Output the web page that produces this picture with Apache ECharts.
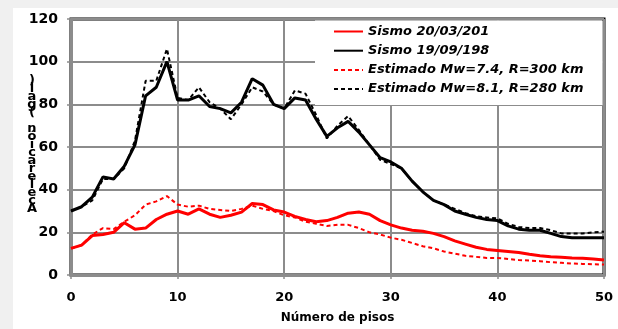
<!DOCTYPE html>
<html>
<head>
<meta charset="utf-8">
<script src="https://cdn.jsdelivr.net/npm/echarts@6.0.0/dist/echarts.min.js"></script>
<style>
    html, body { margin: 0; padding: 0; background: #f0f0f0; }
    #wrap { position: relative; width: 618px; height: 329px; background: #f0f0f0; overflow: hidden; }
    #panel { position: absolute; left: 13px; top: 8px; right: 0; bottom: 0; background: #fff; }
    #chart { position: absolute; left: 0; top: 0; width: 618px; height: 329px; }
</style>
</head>
<body>
<div id="wrap">
    <div id="panel"></div>
    <div id="chart"></div>
</div>
<script>
// número de pisos (eje x)
var pisos = [0,1,2,3,4,5,6,7,8,9,10,11,12,13,14,15,16,17,18,19,20,21,22,23,24,25,26,27,28,29,30,
    31,32,33,34,35,36,37,38,39,40,41,42,43,44,45,46,47,48,49,50];

// Sismo 20/03/2012 (rojo continuo)
var sismo2012 = [12.5,14,18.5,19,20,24.5,21.5,22,26,28.5,30,28.5,31,28.5,27,28,29.5,33.5,33,30.5,29.5,
    27.5,26,25,25.5,27,29,29.5,28.5,25.5,23.5,22,21,20.5,19.5,18,16,14.5,13,12,11.5,
    11,10.5,9.7,9,8.6,8.3,8,7.8,7.5,7];

// Sismo 19/09/1985 (negro continuo)
var sismo1985 = [30,32,36.5,46,45,51,61,84,88,100,82,82,84,79,78,76,81,92,89,80,78,
    83,82,73,65,69,72,67,61,55,53,50,44,39,35,33,30,28.5,27,26,25.5,
    23,21.5,21,21,19.5,18,17.5,17.5,17.5,17.5];

// Estimado Mw=7.4, R=300 km (rojo discontinuo)
var estimado74 = [12.5,14,19,22,21.5,25,28,33,34.5,37,33,32,32.5,31,30.5,30,31,32.5,31,30,28,
    27,25,24,23,23.5,23.5,22,20,19,17.5,16.5,15,13.5,12.5,11,10,9,8.5,8,8,
    7.5,7,6.8,6.5,6,5.7,5.4,5.2,5,4.9];

// Estimado Mw=8.1, R=280 km (negro discontinuo)
var estimado81 = [30,32,35,45,45,50,63,91,91,106,83,82,88,81,78,73,80,88,86,80,78,
    86.5,85,75,64,70,74.5,68,61,54,52,50,44,39,35,33,31,29,27.5,27,26.5,
    24,22.5,22,22,21,19.5,19.5,19.5,20,20.3];

var nombres = ['Sismo 20/03/2012', 'Sismo 19/09/1985', 'Estimado Mw=7.4, R=300 km', 'Estimado Mw=8.1, R=280 km'];

// etiqueta vertical del eje y, letras apiladas
var tituloY = 'Aceleración (gal)';

function pares(valores){
    var out = [];
    for (var i = 0; i < pisos.length; i++) {
        out.push([pisos[i], valores[i]]);
    }
    return out;
}

var chart = echarts.init(document.getElementById('chart'));

var fuente = 'DejaVu Sans';

var legendText = {
    fontFamily: fuente,
    fontSize: 13,
    fontWeight: 'bold',
    fontStyle: 'italic',
    color: '#000'
};

// texto cortado como en la leyenda original
var cortado = { width: 124, overflow: 'truncate', ellipsis: '' };

var option = {
    animation: false,
    grid: {
        left: 71,
        right: 14,
        top: 19,
        bottom: 52,
        show: true,
        borderColor: '#000',
        borderWidth: 3
    },
    graphic: [
        {
            // fondo blanco de la leyenda
            type: 'rect',
            z: 3,
            shape: { x: 315, y: 20.5, width: 287.5, height: 84.5 },
            style: { fill: '#fff' }
        },
        {
            type: 'text',
            z: 3,
            x: 32,
            y: 77,
            style: {
                text: tituloY.split('').reverse().join('\n'),
                fontFamily: fuente,
                fontSize: 13,
                fontWeight: 'bold',
                lineHeight: 8,
                align: 'center',
                verticalAlign: 'top',
                fill: '#000'
            }
        }
    ],
    legend: {
        orient: 'vertical',
        left: 333,
        top: 25,
        z: 10,
        itemWidth: 29,
        itemHeight: 14,
        itemGap: 6.2,
        padding: 0,
        itemStyle: { color: 'transparent', borderWidth: 0, opacity: 0 },
        textStyle: legendText,
        data: [
            { name: nombres[0], textStyle: cortado },
            { name: nombres[1], textStyle: cortado },
            { name: nombres[2] },
            { name: nombres[3] }
        ]
    },
    xAxis: {
        type: 'value',
        min: 0,
        max: 50,
        interval: 10,
        name: 'Número de pisos',
        nameLocation: 'middle',
        nameGap: 37,
        nameTextStyle: { fontFamily: fuente, fontSize: 12, fontWeight: 'bold', color: '#000' },
        axisLine: { lineStyle: { color: '#8c8c8c', width: 3 } },
        axisTick: { show: true, length: 4, lineStyle: { color: '#8c8c8c', width: 1.5 } },
        axisLabel: { margin: 16, fontFamily: fuente, fontSize: 13, fontWeight: 'bold', color: '#000' },
        splitLine: { show: true, lineStyle: { color: '#8c8c8c', width: 2 } }
    },
    yAxis: {
        type: 'value',
        min: 0,
        max: 120,
        interval: 20,
        axisLine: { show: true, lineStyle: { color: '#8c8c8c', width: 3 } },
        axisTick: { show: true, length: 4, lineStyle: { color: '#8c8c8c', width: 1.5 } },
        axisLabel: { margin: 13, fontFamily: fuente, fontSize: 14, fontWeight: 'bold', color: '#000' },
        splitLine: { show: true, lineStyle: { color: '#8c8c8c', width: 2 } }
    },
    series: [
        {
            name: nombres[2],
            type: 'line',
            symbol: 'none',
            data: pares(estimado74),
            lineStyle: { color: '#ff0000', width: 2, type: [4, 3] },
            itemStyle: { color: '#ff0000' }
        },
        {
            name: nombres[3],
            type: 'line',
            symbol: 'none',
            data: pares(estimado81),
            lineStyle: { color: '#000', width: 2, type: [4, 3] },
            itemStyle: { color: '#000' }
        },
        {
            name: nombres[0],
            type: 'line',
            symbol: 'none',
            data: pares(sismo2012),
            lineStyle: { color: '#ff0000', width: 3 },
            itemStyle: { color: '#ff0000' }
        },
        {
            name: nombres[1],
            type: 'line',
            symbol: 'none',
            data: pares(sismo1985),
            lineStyle: { color: '#000', width: 3 },
            itemStyle: { color: '#000' }
        }
    ]
};

chart.setOption(option, true);
</script>
</body>
</html>
